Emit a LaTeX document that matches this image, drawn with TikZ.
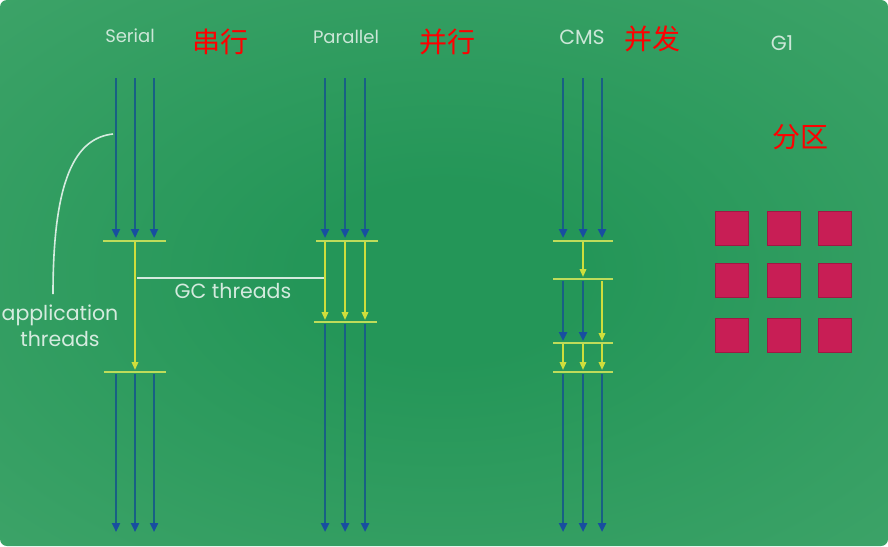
\documentclass[tikz,border=0pt]{standalone}
\usepackage{fontspec}
\setmainfont{Poppins}
\newfontfamily\cjk{Noto Sans CJK SC}
\usetikzlibrary{arrows.meta}
\definecolor{gcenter}{RGB}{36,150,88}
\definecolor{gedge}{RGB}{92,180,124}
\definecolor{appblue}{RGB}{24,96,132}
\definecolor{tipblue}{RGB}{24,78,160}
\definecolor{gcyellow}{RGB}{206,222,60}
\definecolor{barcol}{RGB}{190,220,90}
\definecolor{squarecol}{RGB}{200,30,85}
\pgfdeclareradialshading{bgshade}{\pgfpoint{0bp}{0bp}}{color(0bp)=(gcenter); color(8bp)=(gcenter); color(72bp)=(gedge)}
\tikzset{
  app/.style={draw=appblue, line width=2.6pt, -{Triangle[length=9pt,width=8pt,color=tipblue]}},
  gcl/.style={draw=gcyellow, line width=1.8pt, -{Triangle[length=8pt,width=6.5pt]}},
  bar/.style={draw=barcol, line width=2pt},
  note/.style={draw=white, draw opacity=0.8, line width=1.6pt},
  lbl/.style={text=white, text opacity=0.75, font=\fontsize{18}{20}\selectfont, inner sep=0pt},
  lblc/.style={lbl, font=\fontsize{20.5}{22}\selectfont},
  lblb/.style={text=white, text opacity=0.8, font=\fontsize{20.5}{26}\selectfont, inner sep=0pt, align=center},
  zh/.style={text=red, font=\cjk\fontsize{28}{30}\selectfont, inner sep=0pt},
  region/.style={fill=squarecol, draw=squarecol!80!black, line width=0.6pt, minimum width=33pt, minimum height=34pt, inner sep=0pt}
}
\begin{document}
\begin{tikzpicture}[x=1pt,y=-1pt]
\useasboundingbox (0,0) rectangle (888,546);
\shade[shading=bgshade, rounded corners=7pt] (0,0) rectangle (888,546);

% titles
\node[lbl] (serial) at (130,36) {Serial};
\node[zh] (zh1) at (220,42) {串行};
\node[lbl] (parallel) at (346,37) {Parallel};
\node[zh] (zh2) at (447,42) {并行};
\node[lblc] (cms) at (582,37) {CMS};
\node[zh] (zh3) at (652,39) {并发};
\node[lblc] (g1) at (782,43) {G1};
\node[zh] (zh4) at (800,137) {分区};

% ---------- Serial ----------
\foreach \i/\x in {1/116,2/135,3/154}{
  \coordinate (s\i t) at (\x,78);
  \coordinate (s\i a) at (\x,238);
  \coordinate (s\i b) at (\x,374);
  \coordinate (s\i e) at (\x,532);
  \draw[app] (s\i t) -- (s\i a);
  \draw[app] (s\i b) -- (s\i e);
}
\coordinate (sb1l) at (103,241); \coordinate (sb1r) at (166,241);
\coordinate (sb2l) at (104,372); \coordinate (sb2r) at (166,372);
\draw[bar] (sb1l) -- (sb1r);
\draw[bar] (sb2l) -- (sb2r);
\coordinate (sgt) at (135,242); \coordinate (sge) at (135,370);
\draw[gcl] (sgt) -- (sge);

% ---------- Parallel ----------
\foreach \i/\x in {1/325,2/345,3/365}{
  \coordinate (p\i t) at (\x,78);
  \coordinate (p\i a) at (\x,238);
  \coordinate (p\i g) at (\x,242);
  \coordinate (p\i h) at (\x,320);
  \coordinate (p\i b) at (\x,324);
  \coordinate (p\i e) at (\x,532);
  \draw[app] (p\i t) -- (p\i a);
  \draw[gcl] (p\i g) -- (p\i h);
  \draw[app] (p\i b) -- (p\i e);
}
\coordinate (pb1l) at (316,241); \coordinate (pb1r) at (378,241);
\coordinate (pb2l) at (314,322); \coordinate (pb2r) at (377,322);
\draw[bar] (pb1l) -- (pb1r);
\draw[bar] (pb2l) -- (pb2r);

% ---------- CMS ----------
\foreach \i/\x in {1/563,2/583,3/602}{
  \coordinate (c\i t) at (\x,78);
  \coordinate (c\i a) at (\x,238);
  \coordinate (c\i m) at (\x,344);
  \coordinate (c\i n) at (\x,370);
  \coordinate (c\i b) at (\x,374);
  \coordinate (c\i e) at (\x,532);
  \draw[app] (c\i t) -- (c\i a);
  \draw[gcl] (c\i m) -- (c\i n);
  \draw[app] (c\i b) -- (c\i e);
}
\coordinate (cgt) at (583,242); \coordinate (cge) at (583,277);
\draw[gcl] (cgt) -- (cge);
\coordinate (c1p) at (563,281); \coordinate (c1q) at (563,341);
\coordinate (c2p) at (583,281); \coordinate (c2q) at (583,341);
\coordinate (c3p) at (602,281); \coordinate (c3q) at (602,341);
\draw[app] (c1p) -- (c1q);
\draw[app] (c2p) -- (c2q);
\draw[gcl] (c3p) -- (c3q);
\coordinate (cb1l) at (553,241); \coordinate (cb1r) at (613,241);
\coordinate (cb2l) at (553,279); \coordinate (cb2r) at (613,279);
\coordinate (cb3l) at (553,343); \coordinate (cb3r) at (613,343);
\coordinate (cb4l) at (553,372); \coordinate (cb4r) at (613,372);
\foreach \k in {1,2,3,4}{\draw[bar] (cb\k l) -- (cb\k r);}

% ---------- G1 regions ----------
\foreach \r/\y in {1/228,2/280,3/335}{
  \foreach \c/\x in {1/732,2/784,3/835}{
    \node[region] (r\r\c) at (\x,\y) {};
  }
}

% ---------- annotations ----------
\node[lblb] (appthr) at (60,326) {application\\threads};
\coordinate (appc0) at (113,134);
\coordinate (appc1) at (53,294);
\draw[note] (appc0) .. controls (75,138) and (53,180) .. (appc1);
\coordinate (gcc0) at (137,278);
\coordinate (gcc1) at (324,278);
\draw[note] (gcc0) -- (gcc1);
\node[lblb] (gcthr) at (233,291) {GC threads};
\end{tikzpicture}
\end{document}
